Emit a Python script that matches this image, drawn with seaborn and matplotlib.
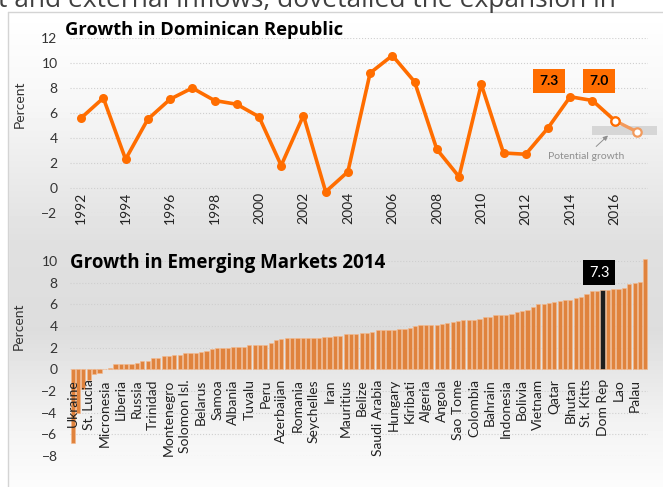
import numpy as np
import pandas as pd
import matplotlib.pyplot as plt
import matplotlib.patches as mpatches
import seaborn as sns

# Dominican Republic real GDP growth (percent); last two years are projections
dr_years = list(range(1992, 2018))
dr_growth = [5.6, 7.2, 2.3, 5.5, 7.1, 8.0, 7.0, 6.7, 5.7, 1.8, 5.8, -0.3, 1.3,
             9.2, 10.6, 8.5, 3.1, 0.9, 8.3, 2.8, 2.7, 4.8, 7.3, 7.0, 5.4, 4.5]
dr_projection_years = [2016, 2017]
dr_callouts = {2014: '7.3', 2015: '7.0'}
potential_growth_band = (4.25, 4.95)

# Emerging markets growth in 2014, sorted; one label every third country
em_growth = [-6.8, -4.0, -1.8, -1.0, -0.4, -0.3, 0.05, 0.1, 0.5, 0.5,
             0.5, 0.5, 0.6, 0.8, 0.8, 1.1, 1.1, 1.2, 1.2, 1.3,
             1.3, 1.5, 1.5, 1.5, 1.6, 1.7, 1.9, 2.0, 2.0, 2.0,
             2.1, 2.1, 2.1, 2.3, 2.3, 2.3, 2.3, 2.4, 2.7, 2.8,
             2.9, 2.9, 2.9, 2.9, 2.9, 2.9, 2.9, 3.0, 3.0, 3.1,
             3.1, 3.3, 3.3, 3.3, 3.4, 3.4, 3.5, 3.6, 3.6, 3.6,
             3.6, 3.7, 3.7, 3.8, 4.0, 4.1, 4.1, 4.1, 4.1, 4.2,
             4.3, 4.4, 4.5, 4.6, 4.6, 4.6, 4.7, 4.8, 4.8, 5.0,
             5.0, 5.0, 5.1, 5.3, 5.4, 5.5, 5.8, 6.0, 6.0, 6.1,
             6.2, 6.3, 6.4, 6.4, 6.6, 6.7, 7.0, 7.2, 7.2, 7.3,
             7.3, 7.4, 7.4, 7.5, 7.9, 8.0, 8.1, 10.2]
em_labels = ['Ukraine', 'St. Lucia', 'Micronesia', 'Liberia', 'Russia', 'Trinidad',
             'Montenegro', 'Solomon Isl.', 'Belarus', 'Samoa', 'Albania', 'Tuvalu',
             'Peru', 'Azerbaijan', 'Romania', 'Seychelles', 'Iran', 'Mauritius',
             'Belize', 'Saudi Arabia', 'Hungary', 'Kiribati', 'Algeria', 'Angola',
             'Sao Tome', 'Colombia', 'Bahrain', 'Indonesia', 'Bolivia', 'Vietnam',
             'Qatar', 'Bhutan', 'St. Kitts', 'Dom Rep', 'Lao', 'Palau']
label_step = 3
highlight = 'Dom Rep'

ORANGE = '#ff6d00'
BAR_ORANGE = '#fb7f22'
TEXT = '#333333'
W, H = 663, 487


def fx(px):
    return px / W


def fy(py):
    return 1 - py / H


def configure_plot_settings():
    sns.set_style("white")
    plt.rcParams['font.family'] = ['Lato', 'DejaVu Sans']
    plt.rcParams['font.size'] = 10
    plt.rcParams['xtick.color'] = TEXT
    plt.rcParams['ytick.color'] = TEXT


def draw_background(fig):
    """Slide-like grey gradient behind both charts"""
    bg = fig.add_axes([0, 0, 1, 1], zorder=-10)
    rows = np.arange(H)
    shade = np.interp(rows, [0, 12, 100, 240, 330, 430, 487],
                      [255, 255, 247, 224, 221, 244, 252]) / 255
    img = np.repeat(shade[:, None], 2, axis=1)
    bg.imshow(img, cmap='gray', vmin=0, vmax=1, aspect='auto',
              extent=[0, 1, 0, 1], origin='upper')
    bg.add_patch(mpatches.Rectangle((0, 0), fx(8), 1, color='white'))
    bg.add_patch(mpatches.Rectangle((0, fy(12)), 1, 1, color='white'))
    bg.plot([fx(8), fx(8)], [0, fy(12)], color='#d4d4d4', lw=1)
    bg.plot([fx(8), 1], [fy(12), fy(12)], color='#d4d4d4', lw=1)
    bg.set_xlim(0, 1)
    bg.set_ylim(0, 1)
    bg.axis('off')
    fig.text(fx(-2), fy(7), 't and external inflows, dovetailed the expansion in',
             fontsize=19, color='#404040', va='baseline', ha='left',
             family='Open Sans')


def style_axes(ax):
    """Call before setting ticks: moving the spine resets tick styling"""
    for s in ['top', 'right', 'left', 'bottom']:
        ax.spines[s].set_visible(False)
    ax.spines['bottom'].set_position(('data', 0))
    ax.patch.set_alpha(0)
    ax.set_xlabel('')


def finish_axes(ax, yticks):
    # dotted guides behind the marks, tick labels above them
    ax.grid(False)
    for y in yticks:
        ax.axhline(y, color='#cfcfcf', linestyle=':', linewidth=0.8, zorder=0.5)
    ax.set_axisbelow(False)
    ax.set_yticks(yticks)
    ax.tick_params(length=0)
    ax.tick_params(axis='y', labelsize=10, pad=9)


def plot_dominican_growth(fig):
    ax = fig.add_axes([fx(70), fy(213), fx(648) - fx(70), fy(38) - fy(213)])
    df = pd.DataFrame({'year': dr_years, 'growth': dr_growth})
    solid = df[df.year <= dr_projection_years[0]]
    last = df[df.year >= dr_projection_years[0]]

    lo, hi = potential_growth_band
    ax.add_patch(mpatches.Rectangle((2015.0, lo), 2.9, hi - lo, color='#d6d6d6',
                                    lw=0, clip_on=False, zorder=1))

    sns.lineplot(data=last, x='year', y='growth', color='#f29a5c', lw=2.4,
                 marker='o', markersize=6, markerfacecolor='white',
                 markeredgecolor='#f29a5c', markeredgewidth=1.6, ax=ax, zorder=3)
    sns.lineplot(data=solid, x='year', y='growth', color=ORANGE, lw=2.6,
                 marker='o', markersize=6.5, markeredgewidth=0, ax=ax, zorder=4)
    proj = df[df.year == dr_projection_years[0]]
    ax.plot(proj.year, proj.growth, 'o', markersize=6, markerfacecolor='white',
            markeredgecolor=ORANGE, markeredgewidth=1.6, zorder=5)

    offsets = {2014: -0.95, 2015: 0.3}
    for yr, txt in dr_callouts.items():
        ax.text(yr + offsets[yr], 8.55, txt, ha='center', va='center',
                fontsize=10, fontweight='bold', color='black',
                bbox=dict(boxstyle='square,pad=0.45', fc=ORANGE, ec='none'))

    ax.annotate('Potential growth', xy=(2015.7, 4.2), xytext=(2014.7, 2.55),
                ha='center', va='center', fontsize=7.5, color='#8f8f8f',
                arrowprops=dict(arrowstyle='-|>', color='#8f8f8f', lw=0.7,
                                mutation_scale=7, shrinkA=2, shrinkB=0))

    style_axes(ax)
    ax.set_xlim(1991.5, 2017.5)
    ax.set_ylim(-2, 12)
    ax.set_xticks(range(1992, 2017, 2))
    ax.set_xticklabels([str(y) for y in range(1992, 2017, 2)], rotation=90,
                       fontsize=10, color='#222222', va='top')
    ax.tick_params(axis='x', pad=3)
    finish_axes(ax, list(range(-2, 13, 2)))
    ax.set_ylabel('Percent', fontsize=10, color=TEXT)
    ax.yaxis.set_label_coords(-0.076, 0.62)
    fig.text(fx(65), fy(35), 'Growth in Dominican Republic', fontsize=13.2,
             fontweight='bold', color='black', va='baseline', family='Open Sans')


def plot_emerging_markets(fig):
    ax = fig.add_axes([fx(70), fy(456), fx(648) - fx(70), fy(259) - fy(456)])
    df = pd.DataFrame({'rank': range(len(em_growth)), 'growth': em_growth})
    df['group'] = 'other'
    df.loc[em_labels.index(highlight) * label_step, 'group'] = 'highlight'

    sns.barplot(data=df, x='rank', y='growth', hue='group',
                palette={'other': BAR_ORANGE, 'highlight': '#1e1e1e'},
                dodge=False, legend=False, width=0.78,
                edgecolor='#f6b98c', linewidth=0.4, ax=ax)

    hl = df[df.group == 'highlight'].iloc[0]
    ax.text(hl['rank'] - 0.6, 8.95, '7.3', ha='center', va='center',
            fontsize=10.5, color='white',
            bbox=dict(boxstyle='square,pad=0.4', fc='black', ec='none'))

    style_axes(ax)
    ticks = list(range(0, len(em_growth), label_step))
    ax.set_xticks(ticks)
    ax.set_xticklabels(em_labels, rotation=90, fontsize=10, color='#222222',
                       va='top')
    ax.tick_params(axis='x', pad=7)
    ax.set_xlim(-0.5, len(em_growth) - 0.5)
    ax.set_ylim(-8, 10.2)
    finish_axes(ax, list(range(-8, 11, 2)))
    ax.set_ylabel('Percent', fontsize=10, color=TEXT)
    ax.yaxis.set_label_coords(-0.078, 0.66)
    fig.text(fx(70), fy(268), 'Growth in Emerging Markets 2014', fontsize=13.5,
             fontweight='bold', color='black', va='baseline', family='Open Sans')


def main():
    configure_plot_settings()
    fig = plt.figure(figsize=(W / 100, H / 100), dpi=100)
    draw_background(fig)
    plot_dominican_growth(fig)
    plot_emerging_markets(fig)
    fig.savefig('out.png', dpi=100)
    plt.close(fig)


if __name__ == "__main__":
    main()
